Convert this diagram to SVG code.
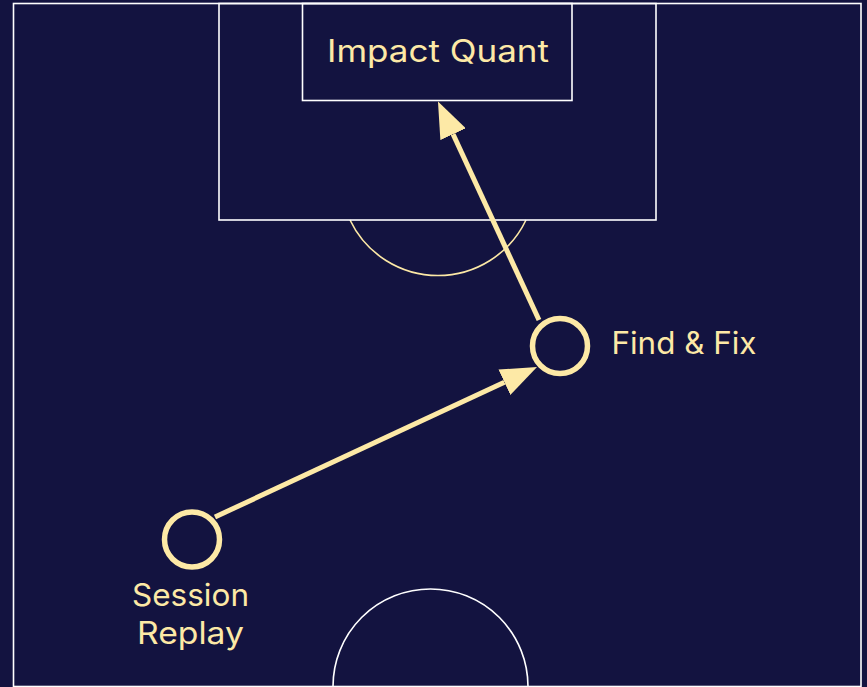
<svg xmlns="http://www.w3.org/2000/svg" width="867" height="687" viewBox="0 0 867 687">
  <style>
    .pitch { fill: none; stroke: #ffffff; stroke-width: 1.6; }
    .arc { fill: none; stroke: #fde9a6; stroke-width: 1.6; }
    .node { fill: none; stroke: #fde9a6; stroke-width: 5.5; }
    .lbl { fill: #fde9a6; font-family: Inter, "Noto Sans", "Liberation Sans", sans-serif; font-size: 30.5px; }
    .edge { stroke: #fde9a6; stroke-width: 5; fill: none; }
  </style>
  <defs>
    <marker id="ah" markerUnits="userSpaceOnUse" markerWidth="36" markerHeight="28" viewBox="0 0 36 28" refX="0" refY="14" orient="auto">
      <path d="M0,0 L36,14 L0,28 z" fill="#fde9a6"/>
    </marker>
  </defs>
  <rect x="0" y="0" width="867" height="687" fill="#131340"/>
  <g id="pitch">
    <rect class="pitch" x="13.5" y="3.5" width="847.5" height="683"/>
    <path class="arc" d="M350,220 A97.5,97.5 0 0 0 526,220"/>
    <rect class="pitch" x="219" y="3.5" width="437" height="216.5" fill="#131340"/>
    <rect class="pitch" x="302.5" y="3.5" width="269.5" height="97"/>
    <circle class="pitch" cx="430.5" cy="686.5" r="97.5"/>
  </g>
  <g id="connectors">
    <line class="edge" x1="215" y1="517" x2="504.4" y2="382.2" marker-end="url(#ah)"/>
    <line class="edge" x1="539" y1="320" x2="453.1" y2="134.2" marker-end="url(#ah)"/>
  </g>
  <g id="impact-quant">
    <text class="lbl" x="438" y="62" text-anchor="middle" textLength="222" lengthAdjust="spacingAndGlyphs">Impact Quant</text>
  </g>
  <g id="find-fix">
    <circle class="node" cx="560" cy="346" r="27.5"/>
    <text class="lbl" x="611.5" y="353.5" textLength="145" lengthAdjust="spacingAndGlyphs">Find &amp; Fix</text>
  </g>
  <g id="session-replay">
    <circle class="node" cx="192" cy="539.5" r="27.5"/>
    <text class="lbl" x="190.5" y="605.5" text-anchor="middle" textLength="117" lengthAdjust="spacingAndGlyphs">Session</text>
    <text class="lbl" x="190.5" y="643.5" text-anchor="middle" textLength="107" lengthAdjust="spacingAndGlyphs">Replay</text>
  </g>
</svg>
